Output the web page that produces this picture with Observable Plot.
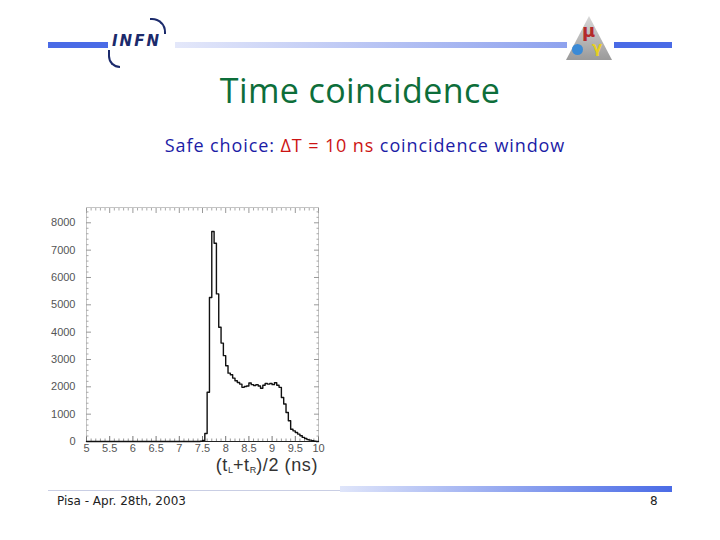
<!DOCTYPE html>
<html>
<head>
<meta charset="utf-8">
<script src="https://cdn.jsdelivr.net/npm/d3@7"></script>
<script src="https://cdn.jsdelivr.net/npm/@observablehq/plot@0.6"></script>
<style>
  html, body { margin: 0; padding: 0; background: #fff; }
  #page { position: relative; width: 720px; height: 540px; overflow: hidden; background: #fff; font-family: "Open Sans", "DejaVu Sans", sans-serif; }
  .abs { position: absolute; }
  #title { left: 0; width: 720px; top: 67px; text-align: center; font-size: 34px; letter-spacing: 0.4px; color: #0d6e3a; line-height: 46px; }
  #subtitle { left: 0; width: 730px; top: 131px; text-align: center; font-size: 18px; letter-spacing: 0.9px; color: #1c1ca6; line-height: 28px; }
  #subtitle .red { color: #cc1414; }
  #chart { left: 0; top: 195px; }
  #xlabel { left: 160px; width: 158px; top: 454px; text-align: right; font-family: "Liberation Sans", sans-serif; font-size: 18px; letter-spacing: 0.6px; color: #333; line-height: 22px; }
  #xlabel sub { font-size: 9px; vertical-align: -2px; letter-spacing: 0; }
  #footer { left: 57px; top: 494px; font-family: "DejaVu Sans", sans-serif; font-size: 12px; color: #222; }
  #pagenum { left: 650px; top: 494px; font-family: "DejaVu Sans", sans-serif; font-size: 12px; color: #222; }
</style>
</head>
<body>
<div id="page">
  <!-- header decoration -->
  <div class="abs" style="left:48px;top:42px;width:60px;height:6px;background:#4a6be6;"></div>
  <div class="abs" style="left:175px;top:42px;width:392px;height:6px;background:linear-gradient(to right,#e4e8fa,#8ea2ee);"></div>
  <div class="abs" style="left:614px;top:42px;width:58px;height:6px;background:#4a6be6;"></div>
  <div class="abs" style="left:112px;top:32px;font:italic bold 15px 'DejaVu Sans',sans-serif;color:#1b2a6b;letter-spacing:2px;">INFN</div>
  <div class="abs" style="left:108px;top:50px;width:10px;height:16px;border-left:2px solid #1b2a6b;border-bottom:2px solid #1b2a6b;border-radius:0 0 0 12px;"></div>
  <div class="abs" style="left:150px;top:18px;width:14px;height:14px;border-top:2px solid #1b2a6b;border-right:2px solid #1b2a6b;border-radius:0 14px 0 0;"></div>
  <div class="abs" style="left:566px;top:16px;width:46px;height:44px;background:linear-gradient(#d8d8d8,#9a9a9a);clip-path:polygon(50% 0,100% 100%,0 100%);"></div>
  <div class="abs" style="left:582px;top:20px;font:bold 18px 'DejaVu Sans',sans-serif;color:#b42a2a;">μ</div>
  <div class="abs" style="left:572px;top:44px;width:11px;height:11px;border-radius:50%;background:#3a8ad6;"></div>
  <div class="abs" style="left:592px;top:39px;font:bold 15px 'DejaVu Sans',sans-serif;color:#e8d020;">γ</div>

  <div id="title" class="abs">Time coincidence</div>
  <div id="subtitle" class="abs">Safe choice: <span class="red">ΔT = 10 ns</span> coincidence window</div>

  <div id="chart" class="abs"></div>
  <div id="xlabel" class="abs">(t<sub>L</sub>+t<sub>R</sub>)/2 (ns)</div>

  <!-- footer decoration -->
  <div class="abs" style="left:48px;top:490px;width:292px;height:1px;background:#c9cee4;"></div>
  <div class="abs" style="left:340px;top:486px;width:332px;height:6px;background:linear-gradient(to right,#dfe5fa,#4a6be6);"></div>
  <div id="footer" class="abs">Pisa - Apr. 28th, 2003</div>
  <div id="pagenum" class="abs">8</div>
</div>
<script>
// Histogram: left edge of each 0.05 ns bin (ns) and counts
const binLeft = [5.00, 7.45, 7.50, 7.55, 7.60, 7.65, 7.70, 7.75, 7.80, 7.85, 7.90, 7.95,
  8.00, 8.05, 8.10, 8.15, 8.20, 8.25, 8.30, 8.35, 8.40, 8.45, 8.50, 8.55, 8.60, 8.65,
  8.70, 8.75, 8.80, 8.85, 8.90, 8.95, 9.00, 9.05, 9.10, 9.15, 9.20, 9.25, 9.30, 9.35,
  9.40, 9.45, 9.50, 9.55, 9.60, 9.65, 9.70, 9.75, 9.80, 9.85, 9.90, 9.95, 10.00];
const counts = [0, 10, 40, 290, 1800, 5270, 7680, 7250, 5400, 4180, 3600, 3140,
  2770, 2500, 2440, 2320, 2220, 2160, 2100, 1980, 2010, 2030, 2140, 2080, 2050, 2080,
  2030, 1950, 2060, 2120, 2100, 2120, 2080, 2150, 2060, 1980, 1610, 1370, 1060, 760,
  450, 390, 330, 270, 210, 150, 110, 70, 50, 25, 10, 0, 0];

const xMajor = [5, 5.5, 6, 6.5, 7, 7.5, 8, 8.5, 9, 9.5, 10];
const xMinor = [5.1,5.2,5.3,5.4,5.6,5.7,5.8,5.9,6.1,6.2,6.3,6.4,6.6,6.7,6.8,6.9,
  7.1,7.2,7.3,7.4,7.6,7.7,7.8,7.9,8.1,8.2,8.3,8.4,8.6,8.7,8.8,8.9,9.1,9.2,9.3,9.4,9.6,9.7,9.8,9.9];
const yMajor = [0, 1000, 2000, 3000, 4000, 5000, 6000, 7000, 8000];
const yMinor = [200,400,600,800,1200,1400,1600,1800,2200,2400,2600,2800,3200,3400,3600,3800,
  4200,4400,4600,4800,5200,5400,5600,5800,6200,6400,6600,6800,7200,7400,7600,7800,8200,8400];

const hist = binLeft.map((x, i) => ({x, y: counts[i]}));
const blank = () => "";

const chart = Plot.plot({
  width: 340,
  height: 285,
  marginLeft: 86,
  marginRight: 22,
  marginTop: 12,
  marginBottom: 39,
  x: {domain: [5, 10]},
  y: {domain: [0, 8560]},
  style: {fontFamily: "Liberation Sans, Arial, sans-serif", fontSize: "11px", color: "#555", background: "transparent"},
  marks: [
    Plot.frame({stroke: "#c4c4c4"}),
    Plot.axisX({anchor: "bottom", ticks: xMajor, tickSize: -5, tickPadding: 8, tickFormat: d => String(d), label: null, stroke: "#777"}),
    Plot.axisX({anchor: "bottom", ticks: xMinor, tickSize: -2.5, tickFormat: blank, label: null, stroke: "#999"}),
    Plot.axisX({anchor: "top", ticks: xMajor, tickSize: -5, tickFormat: blank, label: null, stroke: "#999"}),
    Plot.axisX({anchor: "top", ticks: xMinor, tickSize: -2.5, tickFormat: blank, label: null, stroke: "#aaa"}),
    Plot.axisY({anchor: "left", ticks: yMajor, tickSize: -5, tickPadding: 16, tickFormat: d => String(d), label: null, stroke: "#999"}),
    Plot.axisY({anchor: "left", ticks: yMinor, tickSize: -2.5, tickFormat: blank, label: null, stroke: "#aaa"}),
    Plot.axisY({anchor: "right", ticks: yMajor, tickSize: -5, tickFormat: blank, label: null, stroke: "#999"}),
    Plot.axisY({anchor: "right", ticks: yMinor, tickSize: -2.5, tickFormat: blank, label: null, stroke: "#aaa"}),
    Plot.ruleY([0], {stroke: "#222", strokeWidth: 1.2}),
    Plot.line(hist, {x: "x", y: "y", curve: "step-after", stroke: "#111", strokeWidth: 1.4})
  ]
});
document.getElementById("chart").appendChild(chart);
</script>
</body>
</html>
